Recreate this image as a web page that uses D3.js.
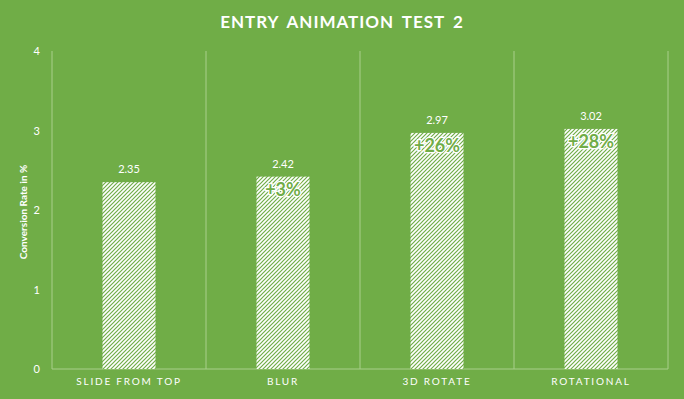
<!DOCTYPE html>
<html><head><meta charset="utf-8">
<script src="https://cdn.jsdelivr.net/npm/d3@7"></script>
<style>html,body{margin:0;padding:0;background:#70AD47;}svg{display:block;}</style>
</head><body>
<svg id="c" width="684" height="399"></svg>
<script>
const categories = ["SLIDE FROM TOP", "BLUR", "3D ROTATE", "ROTATIONAL"];
const values = [2.35, 2.42, 2.97, 3.02];
const upliftLabels = ["", "+3%", "+26%", "+28%"];
const yTicks = [0, 1, 2, 3, 4];

const W = 684, H = 399;
const m = {left: 52, right: 16, top: 51, bottom: 30};
const svg = d3.select("#c");
const green = "#70AD47", grid = "#A9CF8C";
const font = "Lato, 'Open Sans', sans-serif";

svg.append("rect").attr("width", W).attr("height", H).attr("fill", green);

const defs = svg.append("defs");
const pat = defs.append("pattern").attr("id", "hatch").attr("patternUnits", "userSpaceOnUse")
  .attr("width", 4).attr("height", 4);
pat.append("rect").attr("width", 4).attr("height", 4).attr("fill", "#fff");
pat.append("path").attr("d", "M-1,1 l2,-2 M0,4 l4,-4 M3,5 l2,-2")
  .attr("stroke", green).attr("stroke-width", 1.2);

const x = d3.scaleBand().domain(categories).range([m.left, W - m.right]).paddingInner(0).paddingOuter(0);
const y = d3.scaleLinear().domain([0, 4]).range([H - m.bottom, m.top]);

// vertical gridlines at category boundaries
const bounds = categories.map(c => x(c)).concat([x(categories[categories.length - 1]) + x.bandwidth()]);
svg.append("g").selectAll("line").data(bounds).join("line")
  .attr("x1", d => d).attr("x2", d => d).attr("y1", y(4)).attr("y2", y(0))
  .attr("stroke", grid).attr("stroke-width", 1);

// baseline
svg.append("line").attr("x1", m.left).attr("x2", W - m.right).attr("y1", y(0)).attr("y2", y(0))
  .attr("stroke", grid).attr("stroke-width", 1);

// y axis labels
const yAxis = d3.axisLeft(y).tickValues(yTicks).tickSize(0).tickPadding(12).tickFormat(d3.format("d"));
const ga = svg.append("g").attr("transform", `translate(${m.left},0)`).call(yAxis);
ga.select(".domain").remove();
ga.selectAll("text").attr("fill", "#fff").attr("font-family", font).attr("font-size", 11);

// axis title
svg.append("text").attr("transform", `translate(27,${(y(4) + y(0)) / 2 + 2}) rotate(-90)`)
  .attr("text-anchor", "middle").attr("fill", "#fff").attr("font-family", font)
  .attr("font-weight", "bold").attr("font-size", 10).text("Conversion Rate in %");

// x axis labels
const xAxis = d3.axisBottom(x).tickSize(0).tickPadding(9);
const gx = svg.append("g").attr("transform", `translate(0,${y(0)})`).call(xAxis);
gx.select(".domain").remove();
gx.selectAll("text").attr("fill", "#fff").attr("font-family", font).attr("font-size", 10)
  .attr("letter-spacing", "1.8px");

// bars
const barW = 53;
const data = categories.map((c, i) => ({c, v: values[i], u: upliftLabels[i]}));
svg.append("g").selectAll("rect").data(data).join("rect")
  .attr("x", d => x(d.c) + x.bandwidth() / 2 - barW / 2)
  .attr("width", barW)
  .attr("y", d => y(d.v))
  .attr("height", d => y(0) - y(d.v))
  .attr("fill", "url(#hatch)");

// value labels
svg.append("g").selectAll("text").data(data).join("text")
  .attr("x", d => x(d.c) + x.bandwidth() / 2)
  .attr("y", d => y(d.v) - 9)
  .attr("text-anchor", "middle").attr("fill", "#fff").attr("font-family", font).attr("font-size", 11)
  .text(d => d.v.toFixed(2));

// uplift labels
svg.append("g").selectAll("text").data(data.filter(d => d.u)).join("text")
  .attr("x", d => x(d.c) + x.bandwidth() / 2)
  .attr("y", d => y(d.v) + 19)
  .attr("text-anchor", "middle").attr("fill", green).attr("font-family", font)
  .attr("font-weight", "bold").attr("font-size", 18)
  .attr("stroke", "#fff").attr("stroke-width", 2.5).attr("paint-order", "stroke")
  .text(d => d.u);

// title
svg.append("text").attr("x", 342).attr("y", 28).attr("text-anchor", "middle")
  .attr("fill", "#fff").attr("font-family", font).attr("font-weight", "bold")
  .attr("font-size", 17).attr("letter-spacing", "1px").attr("word-spacing", "3px")
  .text("ENTRY ANIMATION TEST 2");
</script>
</body></html>
